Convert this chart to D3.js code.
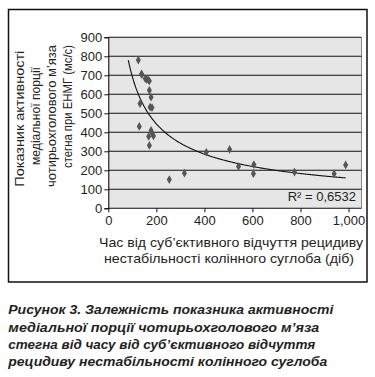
<!DOCTYPE html>
<html>
<head>
<meta charset="utf-8">
<script src="https://cdn.jsdelivr.net/npm/d3@7"></script>
<style>
  body { margin: 0; background: #fff; }
  text { font-family: "Liberation Sans", Arial, sans-serif; fill: #231f20; }
</style>
</head>
<body>
<script>
// days since relapse (x) and EMG activity index (y)
var days = [125, 138, 140, 154, 160, 167, 171, 171, 178, 132, 174, 182, 129, 178,
            182, 168, 188, 171, 254, 317, 408, 505, 542, 606, 604, 775, 940, 988];
var emg  = [780, 707, 703, 682, 678, 675, 670, 621, 585, 551, 532, 530, 431, 410,
            395, 378, 381, 331, 151, 185, 295, 310, 220, 230, 182, 191, 182, 228];
var xTicks = [0, 200, 400, 600, 800, 1000];
var yTicks = [0, 100, 200, 300, 400, 500, 600, 700, 800, 900];
var trendStart = 83;
var r2Label = "R² = 0,6532";
var yTitle = ["Показник активності", "медіальної порції", "чотирьохголового м’яза", "стегна при ЕНМГ (мс/с)"];
var xTitle = ["Час від суб’єктивного відчуття рецидиву", "нестабільності колінного суглоба (діб)"];
var caption = ["Рисунок 3. Залежність показника активності",
               "медіальної порції чотирьохголового м’яза",
               "стегна від часу від суб’єктивного відчуття",
               "рецидиву нестабільності колінного суглоба"];

var width = 375, height = 377;
var svg = d3.select("body").append("svg")
    .attr("width", width)
    .attr("height", height);

// outer frame
svg.append("rect")
    .attr("x", 8.5).attr("y", 9.5)
    .attr("width", 358.5).attr("height", 272.5)
    .attr("fill", "none").attr("stroke", "#111").attr("stroke-width", 1.5);

var x = d3.scaleLinear().domain([0, 1054]).range([108.3, 361.5]);
var y = d3.scaleLinear().domain([0, 900]).range([208.3, 37.3]);

// plot area
svg.append("rect")
    .attr("x", x(0)).attr("y", y(900))
    .attr("width", x(1054) - x(0)).attr("height", y(0) - y(900))
    .attr("fill", "#e6e6e6");
svg.append("line")
    .attr("x1", x(1054)).attr("x2", x(1054))
    .attr("y1", y(900)).attr("y2", y(0))
    .attr("stroke", "#888").attr("stroke-width", 1);

// gridlines
svg.selectAll("line.grid")
    .data(yTicks.slice(1))
    .enter().append("line")
    .attr("class", "grid")
    .attr("x1", x(0)).attr("x2", x(1054))
    .attr("y1", function(d) { return y(d); })
    .attr("y2", function(d) { return y(d); })
    .attr("stroke", "#111").attr("stroke-width", 1.1);

// axes
var yAxis = svg.append("g")
    .attr("transform", "translate(" + x(0) + ",0)")
    .call(d3.axisLeft(y).tickValues(yTicks).tickSize(4).tickPadding(2));
var xAxis = svg.append("g")
    .attr("transform", "translate(0," + y(0) + ")")
    .call(d3.axisBottom(x).tickValues(xTicks).tickSize(4).tickPadding(3));
[yAxis, xAxis].forEach(function(a) {
  a.select(".domain").attr("stroke", "#111").attr("stroke-width", 1.1);
  a.selectAll(".tick line").attr("stroke", "#111");
  a.selectAll("text").attr("font-size", 13).attr("font-family", "Liberation Sans, Arial").attr("fill", "#231f20");
});
xAxis.select(".domain").attr("d", "M" + x(0) + ",0H" + x(1054));

// power trendline fitted to the data (least squares in log-log space)
var lx = days.map(Math.log), ly = emg.map(Math.log);
var mx = d3.mean(lx), my = d3.mean(ly);
var b = d3.sum(lx, function(v, i) { return (v - mx) * (ly[i] - my); }) /
        d3.sum(lx, function(v) { return (v - mx) * (v - mx); });
var a = Math.exp(my - b * mx);
var trendX = d3.range(trendStart, d3.max(days) + 1, 5);
var line = d3.line()
    .x(function(d) { return x(d); })
    .y(function(d) { return y(a * Math.pow(d, b)); })
    .curve(d3.curveBasis);
svg.append("path")
    .datum(trendX)
    .attr("d", line)
    .attr("fill", "none").attr("stroke", "#111").attr("stroke-width", 1.1);

// points
var diamond = d3.symbol().type(d3.symbolDiamond).size(22);
svg.selectAll("path.pt")
    .data(days)
    .enter().append("path")
    .attr("class", "pt")
    .attr("d", diamond)
    .attr("transform", function(d, i) { return "translate(" + x(d) + "," + y(emg[i]) + ")"; })
    .attr("fill", "#555");

svg.append("text")
    .attr("x", 356).attr("y", 200.5)
    .attr("text-anchor", "end")
    .attr("font-size", 13)
    .text(r2Label);

// axis titles
var yBase = [24, 40, 56, 72], yMid = [118.7, 116, 116, 106.5], yLen = [136, 98, 142, 123];
yTitle.forEach(function(t, i) {
  svg.append("text")
      .attr("transform", "translate(" + yBase[i] + "," + yMid[i] + ") rotate(-90)")
      .attr("text-anchor", "middle")
      .attr("font-size", 13)
      .attr("textLength", yLen[i]).attr("lengthAdjust", "spacingAndGlyphs")
      .text(t);
});
var xBase = [246.7, 263.3], xMid = [231, 229], xLen = [264, 250];
xTitle.forEach(function(t, i) {
  svg.append("text")
      .attr("x", xMid[i]).attr("y", xBase[i])
      .attr("text-anchor", "middle")
      .attr("font-size", 13)
      .attr("textLength", xLen[i]).attr("lengthAdjust", "spacingAndGlyphs")
      .text(t);
});

// caption
var cBase = [314.3, 331.7, 349.2, 366], cLen = [325, 311, 307, 319];
caption.forEach(function(t, i) {
  svg.append("text")
      .attr("x", 8.3).attr("y", cBase[i])
      .attr("font-size", 13.5)
      .attr("font-weight", "bold").attr("font-style", "italic")
      .attr("textLength", cLen[i]).attr("lengthAdjust", "spacingAndGlyphs")
      .text(t);
});
</script>
</body>
</html>
